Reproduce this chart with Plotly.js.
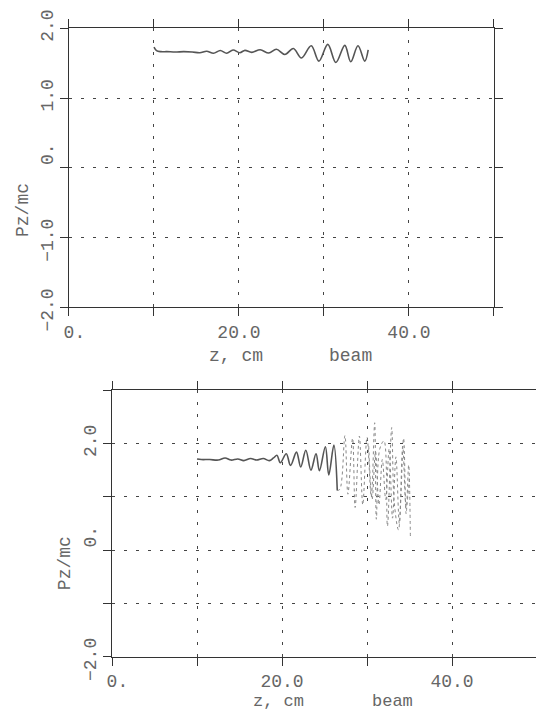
<!DOCTYPE html>
<html><head><meta charset="utf-8">
<script src="https://cdn.plot.ly/plotly-3.0.1.min.js"></script>
<style>html,body{margin:0;padding:0;background:#fff;}#chart{width:536px;height:711px;}</style>
</head><body><div id="chart"></div>
<script>
// ---- data ----
const topZ  = [10.0, 10.3, 10.8, 11.5, 12.5, 13.5, 14.5, 15.4, 16.2, 17.0, 17.8, 18.55, 19.3, 20.1, 20.7, 21.5, 22.5, 23.5, 24.4, 25.4, 26.4, 27.35, 28.5, 29.4, 30.45, 31.4, 32.45, 33.15, 34.0, 34.8, 35.2];
const topPz = [1.73, 1.68, 1.665, 1.665, 1.66, 1.665, 1.66, 1.65, 1.672, 1.642, 1.682, 1.643, 1.688, 1.65, 1.684, 1.655, 1.692, 1.645, 1.70, 1.625, 1.71, 1.575, 1.75, 1.53, 1.77, 1.51, 1.755, 1.52, 1.75, 1.53, 1.69];

const botZ  = [10.0, 10.5, 11.5, 12.5, 13.3, 14.0, 14.8, 15.5, 16.3, 17.0, 17.8, 18.5, 19.0, 19.4, 19.8, 20.5, 21.0, 21.7, 22.2, 22.8, 23.4, 24.0, 24.4, 25.1, 25.5, 26.1, 26.5];
const botPz = [1.71, 1.70, 1.70, 1.69, 1.73, 1.69, 1.71, 1.68, 1.72, 1.69, 1.72, 1.68, 1.73, 1.78, 1.64, 1.81, 1.59, 1.84, 1.56, 1.875, 1.50, 1.81, 1.49, 1.94, 1.41, 1.97, 1.12];

const botScatZ  = [26.5, 26.8, 27.4, 27.75, 28.3, 28.6, 29.1, 29.5, 30.0, 30.5, 30.9, 31.1, 31.5, 32.0, 32.4, 32.9, 33.2, 33.7, 34.3, 34.6, 34.9, 35.1];
const botScatPz = [1.12, 1.14, 2.15, 1.05, 2.10, 0.80, 2.14, 0.85, 2.12, 1.00, 2.39, 0.58, 1.90, 2.05, 0.45, 2.30, 0.90, 0.38, 2.10, 0.68, 1.60, 0.25];

const botScat2Z  = [30.2, 30.6, 31.0, 31.4, 31.8, 32.2, 32.6, 33.0, 33.4, 33.8, 34.2, 34.6, 35.0];
const botScat2Pz = [1.95, 0.95, 1.85, 0.85, 1.70, 0.95, 1.90, 0.60, 1.75, 0.50, 1.95, 0.80, 1.40];

const xTickVals = [0, 10, 20, 30, 40, 50];
const xTickText = ['\u00a00.', '', '20.0', '', '40.0', ''];
const yTopVals  = [-2, -1, 0, 1, 2];
const yTopText  = ['\u22122.0\u00a0', '\u22121.0\u00a0', '\u00a0\u00a00.', '1.0', '2.0'];
const yBotVals  = [-2, -1, 0, 1, 2, 3];
const yBotText  = ['\u22122.0\u00a0', '', '\u00a0\u00a00.', '', '2.0', ''];

const yTitle = 'Pz/mc';
const xTitle = 'z, cm';
const xTag   = 'beam';

// ---- styling ----
const FONT = 'Liberation Mono, DejaVu Sans Mono, monospace';
const TXT = '#666';
function axis(extra) {
  return Object.assign({
    showline: true, linecolor: '#333', linewidth: 1, mirror: 'ticks',
    ticks: 'outside', ticklen: 8, tickcolor: '#333', tickwidth: 1,
    showgrid: true, gridcolor: '#444', gridwidth: 1, griddash: '3px,9px',
    zeroline: false, fixedrange: true,
    tickfont: {family: FONT, size: 18, color: TXT}
  }, extra);
}

const lineMain = {color: '#555', width: 1.6, shape: 'spline', smoothing: 1};
const lineDots = {color: '#888', width: 1, dash: 'dot', shape: 'spline', smoothing: 1};

const data = [
  {x: topZ, y: topPz, xaxis: 'x', yaxis: 'y', mode: 'lines', line: lineMain, hoverinfo: 'skip'},
  {x: botZ, y: botPz, xaxis: 'x2', yaxis: 'y2', mode: 'lines', line: lineMain, hoverinfo: 'skip'},
  {x: botScatZ, y: botScatPz, xaxis: 'x2', yaxis: 'y2', mode: 'lines', line: lineDots, hoverinfo: 'skip'},
  {x: botScat2Z, y: botScat2Pz, xaxis: 'x2', yaxis: 'y2', mode: 'lines', line: lineDots, hoverinfo: 'skip'}
];

function ann(text, x, y, angle, size) {
  return {text: text, xref: 'paper', yref: 'paper', x: x, y: y, xanchor: 'center', yanchor: 'middle',
          showarrow: false, font: {family: FONT, size: size || 18, color: TXT}, textangle: angle || 0};
}

const layout = {
  width: 536, height: 711,
  margin: {l: 0, r: 0, t: 0, b: 0, pad: 0},
  paper_bgcolor: '#fff', plot_bgcolor: '#fff',
  showlegend: false,
  xaxis:  axis({domain: [0.1287, 0.9216], range: [0, 50], anchor: 'y', tickvals: xTickVals, ticktext: xTickText, tickangle: 0}),
  yaxis:  axis({domain: [0.5678, 0.9602], range: [-2, 2], anchor: 'x', tickvals: yTopVals, ticktext: yTopText, tickangle: -90}),
  xaxis2: axis({domain: [0.209, 1], range: [0, 49.88], anchor: 'y2', tickvals: xTickVals, ticktext: xTickText, tickangle: 0}),
  yaxis2: axis({domain: [0.0764, 0.4511], range: [-2, 3], anchor: 'x2', mirror: false, tickvals: yBotVals, ticktext: yBotText, tickangle: -90}),
  annotations: [
    ann(yTitle, 0.0429, 0.7046, -90),
    ann(xTitle, 0.4403, 0.4993),
    ann(xTag, 0.653, 0.4993),
    ann(yTitle, 0.1213, 0.2080, -90),
    ann(xTitle, 0.5205, 0.0138, 0, 17),
    ann(xTag, 0.733, 0.0138, 0, 17)
  ]
};

Plotly.newPlot('chart', data, layout, {displayModeBar: false, staticPlot: true});
</script>
</body></html>
